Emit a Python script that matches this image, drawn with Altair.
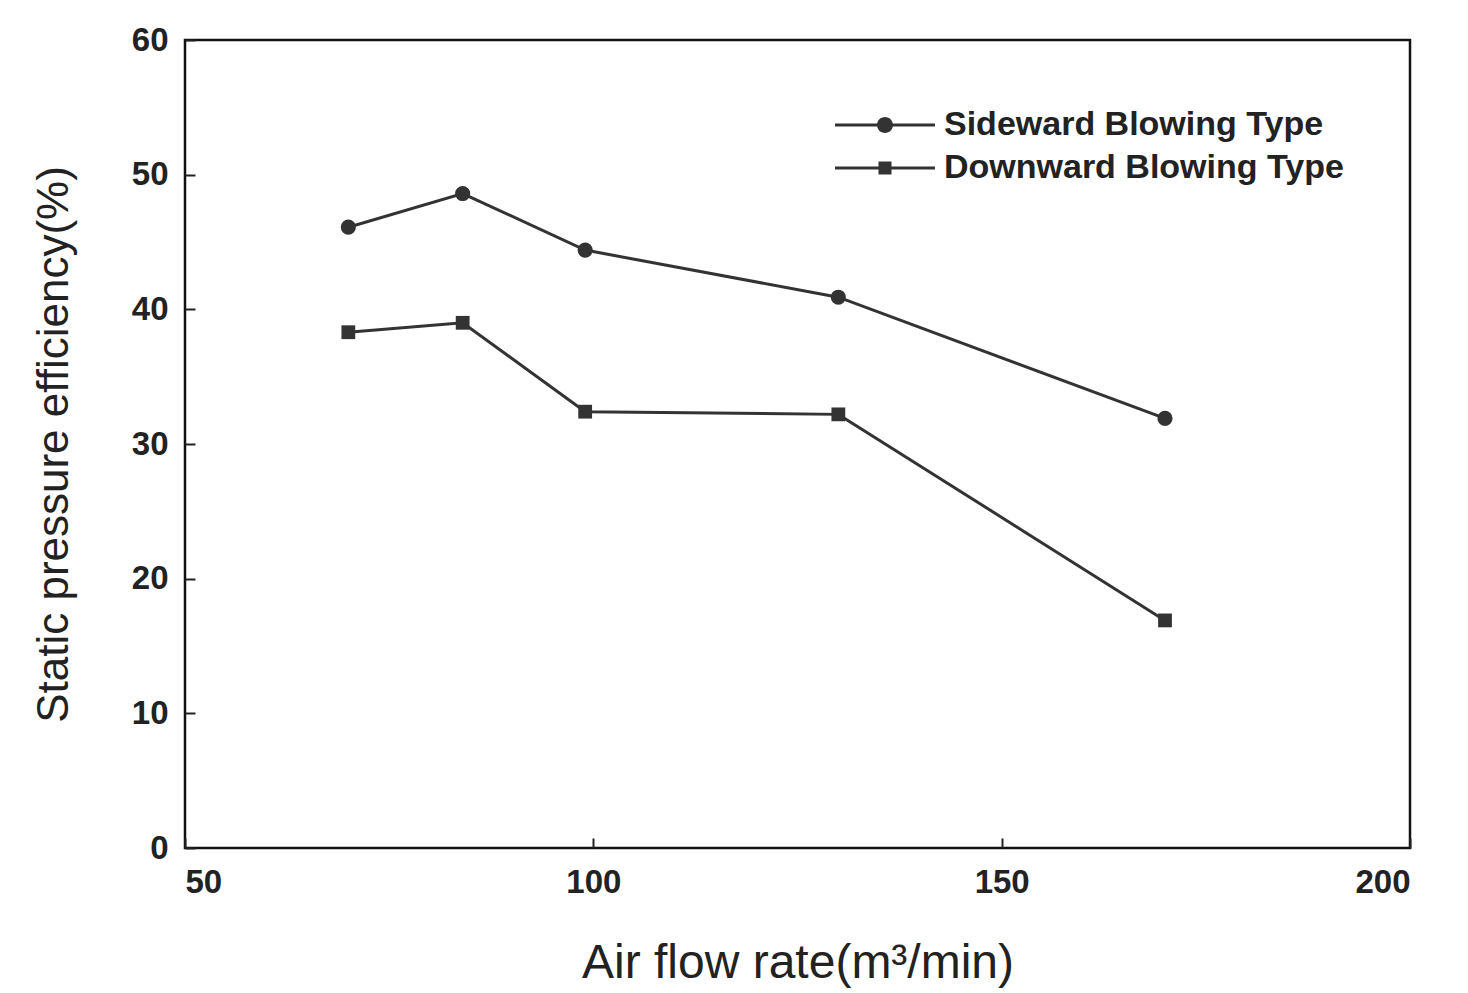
import altair as alt
import pandas as pd

air_flow = [70, 84, 99, 130, 170]
sideward = [46.1, 48.6, 44.4, 40.9, 31.9]
downward = [38.3, 39.0, 32.4, 32.2, 16.9]
series_names = ["Sideward Blowing Type", "Downward Blowing Type"]
x_ticks = [50, 100, 150, 200]
y_ticks = [0, 10, 20, 30, 40, 50, 60]

rows = []
for name, vals in zip(series_names, [sideward, downward]):
    for x, y in zip(air_flow, vals):
        rows.append({"x": x, "y": y, "series": name})
df = pd.DataFrame(rows)

FONT = "Liberation Sans"
TICK = 10

x_enc = alt.X("x:Q", scale=alt.Scale(domain=[50, 200], nice=False),
              axis=alt.Axis(values=x_ticks, title="Air flow rate(m³/min)",
                            grid=False, domain=False, tickSize=TICK, offset=-TICK,
                            tickColor="#222", tickWidth=2, labelPadding=TICK + 8,
                            labelFont=FONT, labelFontSize=33, labelFontWeight="bold",
                            labelColor="#222", titleFont=FONT, titleFontSize=48,
                            titleFontWeight="normal", titleColor="#222", titlePadding=40))
y_enc = alt.Y("y:Q", scale=alt.Scale(domain=[0, 60], nice=False),
              axis=alt.Axis(values=y_ticks, title="Static pressure efficiency(%)",
                            grid=False, domain=False, tickSize=TICK, offset=-TICK,
                            tickColor="#222", tickWidth=2, labelPadding=17,
                            labelFont=FONT, labelFontSize=33, labelFontWeight="bold",
                            labelColor="#222", titleFont=FONT, titleFontSize=44,
                            titleFontWeight="normal", titleColor="#222", titlePadding=55))

base = alt.Chart(df)

lines = base.mark_line(color="#333", strokeWidth=3).encode(
    x=x_enc, y=y_enc, detail="series:N")

points = base.mark_point(filled=True, color="#333", opacity=1).encode(
    x="x:Q", y="y:Q",
    shape=alt.Shape("series:N", sort=series_names,
                    scale=alt.Scale(domain=series_names, range=["circle", "square"]),
                    legend=None),
    size=alt.Size("series:N", sort=series_names,
                  scale=alt.Scale(domain=series_names, range=[230, 190]), legend=None),
)

# legend glyphs: a line segment with the marker in its middle (symbolSize 400 -> 10px per unit)
circ = ("M-5,-0.15H5V0.15H-5Z"
        "M0.8,0A0.8,0.8,0,1,1,-0.8,0A0.8,0.8,0,1,1,0.8,0Z")
sq = "M-5,-0.15H5V0.15H-5ZM-0.65,-0.65H0.65V0.65H-0.65Z"

legend_layer = base.mark_point(filled=True, fill="#333", opacity=0).encode(
    x="x:Q", y="y:Q",
    shape=alt.Shape("series:N", sort=series_names,
                    scale=alt.Scale(domain=series_names, range=[circ, sq]),
                    legend=alt.Legend(title=None, orient="none", legendX=683, legendY=68,
                                      symbolSize=400, symbolOpacity=1,
                                      symbolFillColor="#333",
                                      labelFont=FONT,
                                      labelFontSize=34, labelFontWeight="bold",
                                      labelColor="#222", rowPadding=9, labelOffset=42,
                                      labelLimit=600)),
)

chart = alt.layer(lines, points, legend_layer).resolve_scale(
    shape="independent", size="independent"
).properties(
    width=1225, height=808,
    autosize=alt.AutoSizeParams(type="none"),
    padding={"left": 177, "top": 32, "right": 40, "bottom": 150},
    background="white",
).configure_view(stroke="#111", strokeWidth=2.5)

chart.save("out.html", embed_options={"renderer": "svg", "actions": False})
